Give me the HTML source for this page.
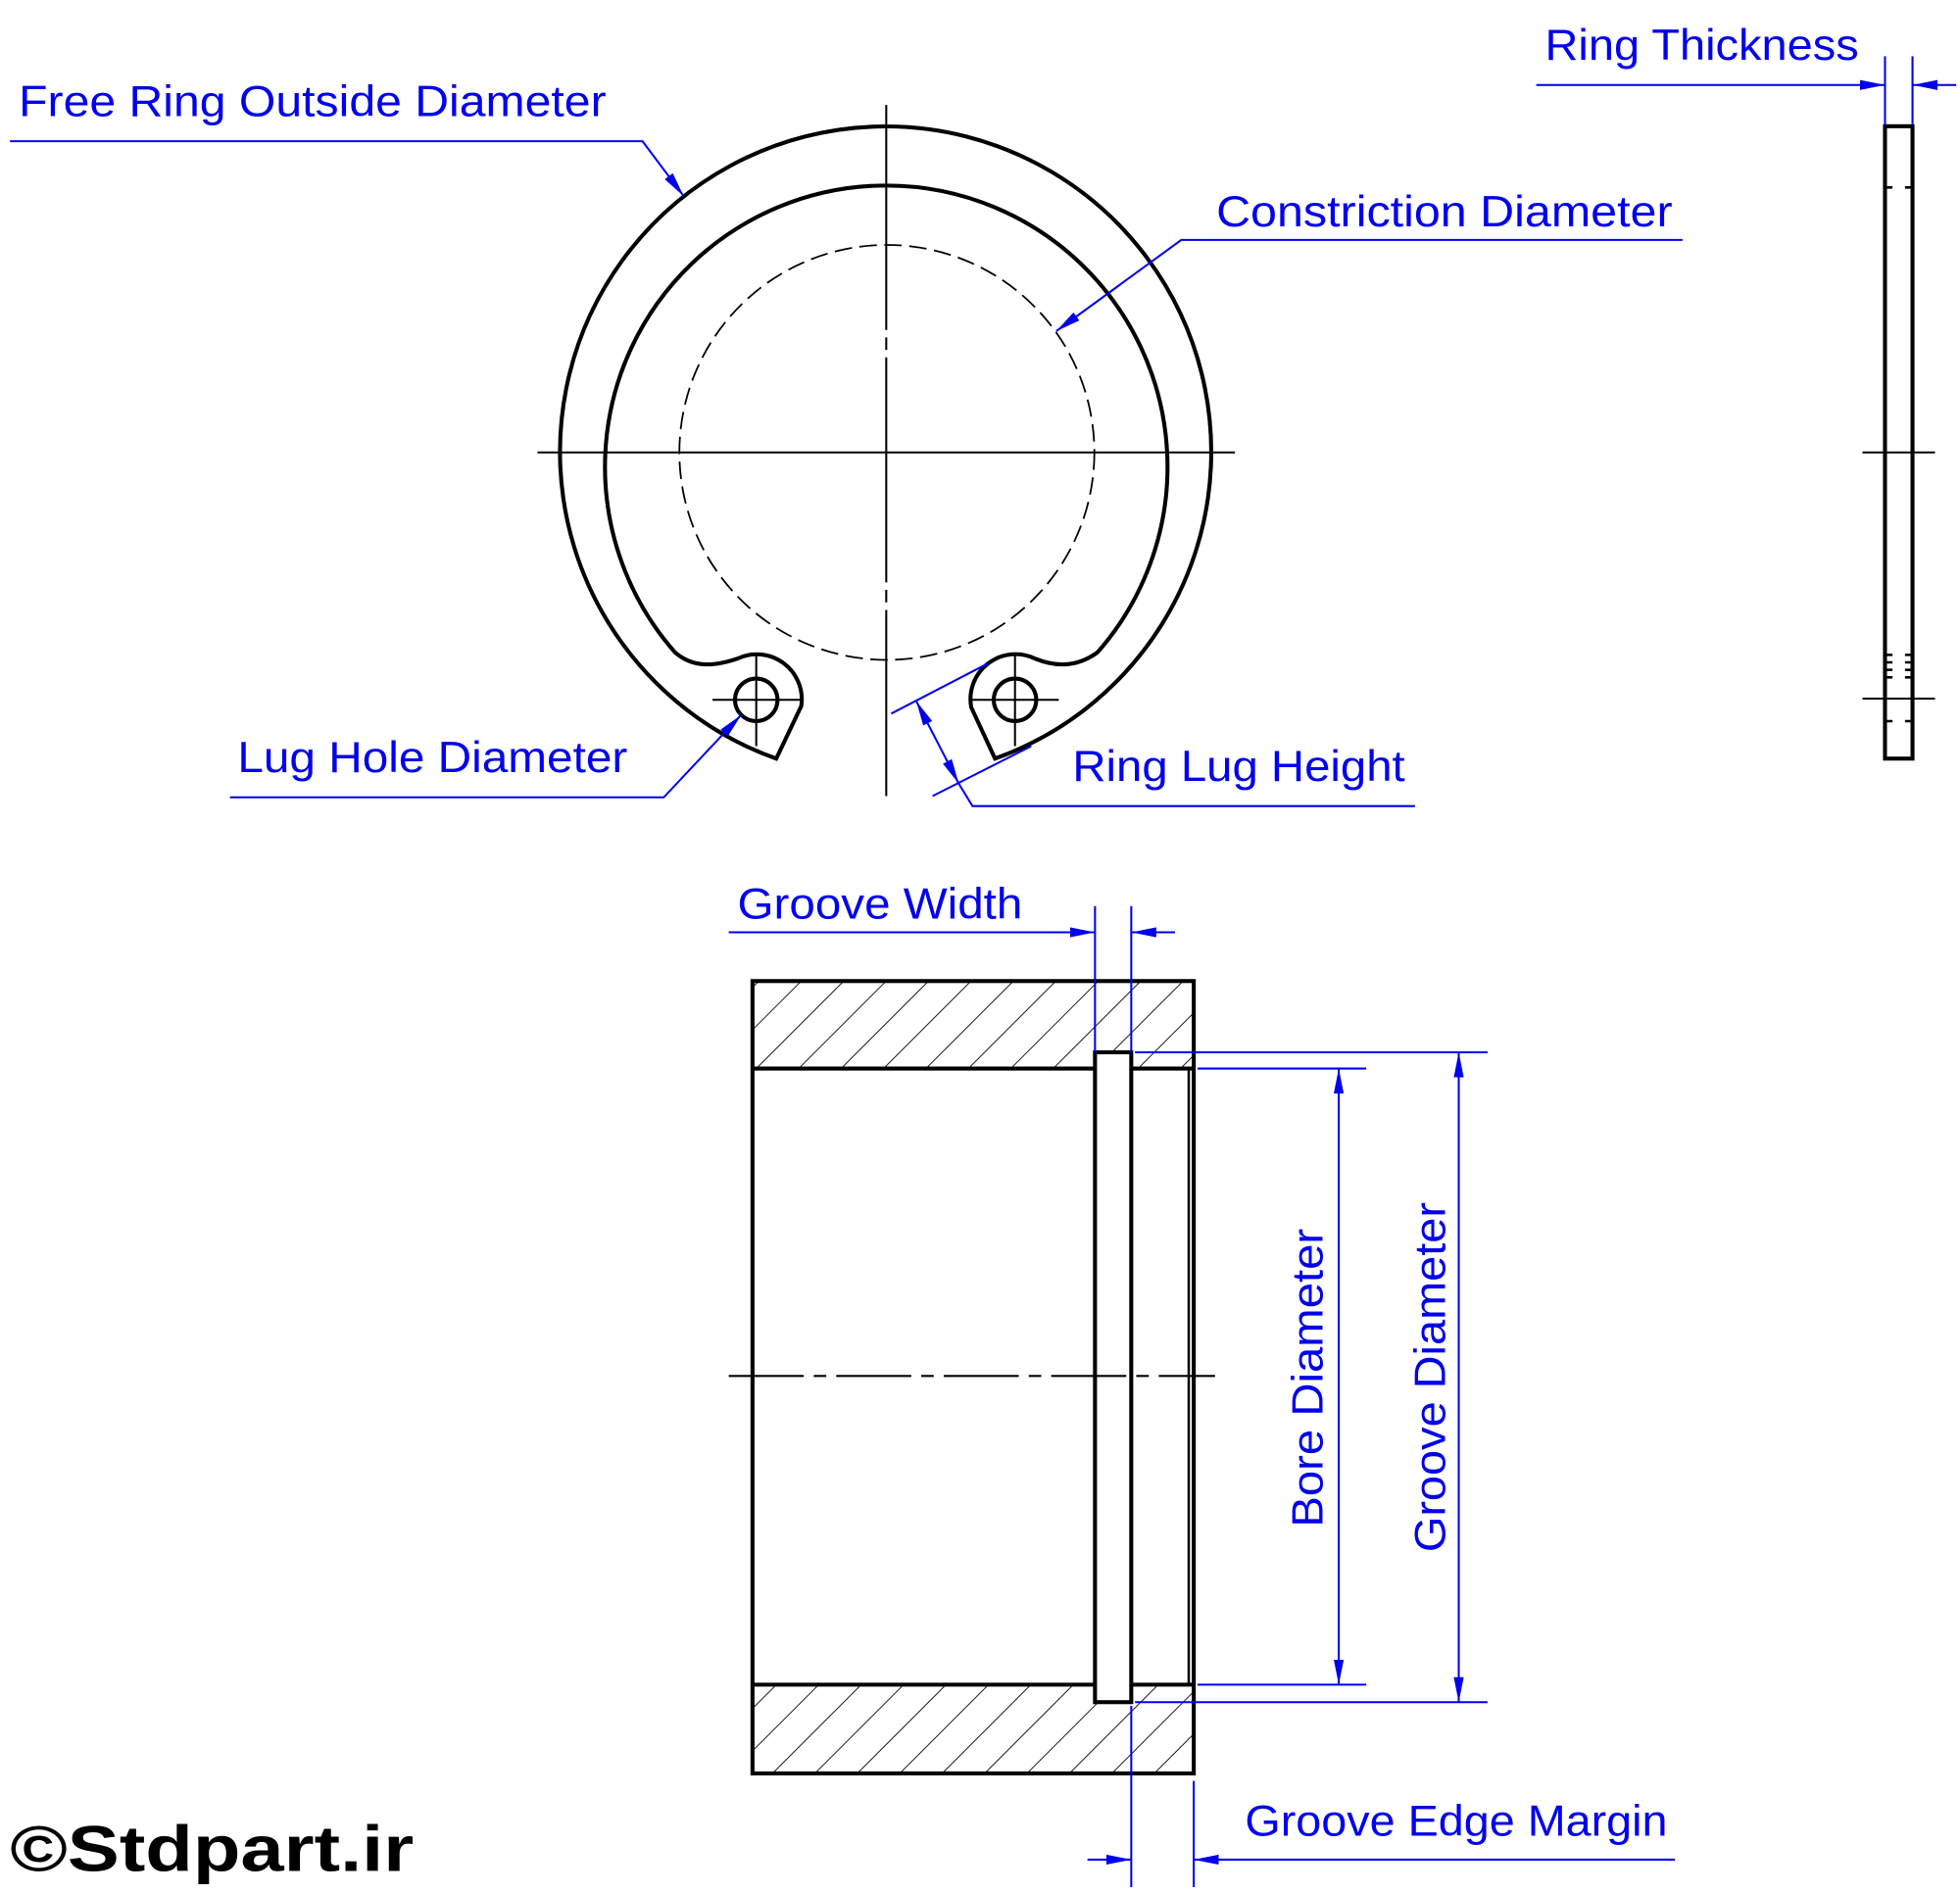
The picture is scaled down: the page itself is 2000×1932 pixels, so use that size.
<!DOCTYPE html>
<html><head><meta charset="utf-8"><style>html,body{margin:0;padding:0;background:#fff}svg{display:block}</style></head><body>
<svg width="2000" height="1932" viewBox="0 0 1568 1514.7" preserveAspectRatio="none" xmlns="http://www.w3.org/2000/svg">
<defs>
<pattern id="h" patternUnits="userSpaceOnUse" width="24" height="24" patternTransform="rotate(45)">
<line x1="0" y1="0" x2="0" y2="24" stroke="#000" stroke-width="1.4"/>
</pattern>
<marker id="a" viewBox="0 0 20 8" refX="20" refY="4" markerWidth="20" markerHeight="8" markerUnits="userSpaceOnUse" orient="auto"><path d="M0 0 L20 4 L0 8Z" fill="#0000ee"/></marker>
<marker id="b" viewBox="0 0 20 8" refX="0" refY="4" markerWidth="20" markerHeight="8" markerUnits="userSpaceOnUse" orient="auto"><path d="M20 0 L0 4 L20 8Z" fill="#0000ee"/></marker>
</defs>
<g fill="none" stroke="#000">
<path stroke-width="3.2" d="M621 607 A260.5 260.5 0 1 1 796 607 L777 566 A36 36 0 0 1 828 527 C843 533 860 535 878 522 A225 225 0 1 0 540 522 C555 535 572 533 590 527 A36 36 0 0 1 641 565 Z"/>
<circle cx="605" cy="560" r="17" stroke-width="3.2"/>
<circle cx="812" cy="560" r="17" stroke-width="3.2"/>
<circle cx="709.5" cy="362" r="166" stroke-width="1.4" stroke-dasharray="14 6"/>
<g stroke-width="1.6">
<line x1="430" y1="362" x2="988" y2="362"/>
<line x1="709" y1="84" x2="709" y2="637" stroke-dasharray="180 6 10 6"/>
<line x1="570" y1="560" x2="640" y2="560"/><line x1="605" y1="523" x2="605" y2="597"/>
<line x1="777" y1="560" x2="847" y2="560"/><line x1="812" y1="523" x2="812" y2="597"/>
</g>
<rect x="1508" y="101" width="22" height="506" stroke-width="3.2"/>
<g stroke-width="1.6">
<line x1="1490" y1="362" x2="1548" y2="362"/><line x1="1490" y1="559" x2="1548" y2="559"/>
<path d="M1508 150h6M1524 150h6M1508 524h6M1524 524h6M1508 530h6M1524 530h6M1508 536h6M1524 536h6M1508 542h6M1524 542h6M1508 577h6M1524 577h6" stroke-width="2"/>
</g>
<rect x="602" y="785" width="353" height="70" fill="url(#h)" stroke="none"/>
<rect x="602" y="1348" width="353" height="71" fill="url(#h)" stroke="none"/>
<rect x="602" y="785" width="353" height="634" stroke-width="3.2"/>
<line x1="602" y1="855" x2="955" y2="855" stroke-width="3.2"/>
<line x1="602" y1="1348" x2="955" y2="1348" stroke-width="3.2"/>
<line x1="951" y1="855" x2="951" y2="1348" stroke-width="2"/>
<rect x="876" y="842" width="29" height="520" fill="#fff" stroke-width="3.2"/>
<line x1="583" y1="1101" x2="972" y2="1101" stroke-width="1.6" stroke-dasharray="60 8 10 8"/>
</g>
<g fill="none" stroke="#0000ee" stroke-width="1.6">
<path d="M8 113H514L547 157" marker-end="url(#a)"/>
<path d="M1346 192H945L845 265" marker-end="url(#a)"/>
<path d="M1229 68H1508" marker-end="url(#a)"/>
<path d="M1565 68H1530" marker-end="url(#a)"/>
<path d="M1508 45V100M1530 45V100"/>
<path d="M184 638H531L593 572" marker-end="url(#a)"/>
<path d="M713 571L790 531M746 637L825 597"/>
<path d="M733 561L767 627" marker-start="url(#b)" marker-end="url(#a)"/>
<path d="M767 627L778 645H1132"/>
<path d="M583 746H876" marker-end="url(#a)"/>
<path d="M940 746H905" marker-end="url(#a)"/>
<path d="M876 725V842M905 725V842"/>
<path d="M958 855H1093M958 1348H1093M908 842H1190M908 1362H1190"/>
<path d="M1071 855V1348" marker-start="url(#b)" marker-end="url(#a)"/>
<path d="M1167 842V1362" marker-start="url(#b)" marker-end="url(#a)"/>
<path d="M905 1365V1510M955 1425V1510"/>
<path d="M870 1488H905" marker-end="url(#a)"/>
<path d="M1340 1488H955" marker-end="url(#a)"/>
</g>
<g fill="#0000ee" font-family="Liberation Sans, sans-serif" font-size="35">
<text x="15" y="93" textLength="470" lengthAdjust="spacingAndGlyphs">Free Ring Outside Diameter</text>
<text x="973" y="181" textLength="365" lengthAdjust="spacingAndGlyphs">Constriction Diameter</text>
<text x="1236" y="48" textLength="251" lengthAdjust="spacingAndGlyphs">Ring Thickness</text>
<text x="190" y="618" textLength="312" lengthAdjust="spacingAndGlyphs">Lug Hole Diameter</text>
<text x="858" y="625" textLength="266" lengthAdjust="spacingAndGlyphs">Ring Lug Height</text>
<text x="590" y="735" textLength="228" lengthAdjust="spacingAndGlyphs">Groove Width</text>
<text x="996" y="1469" textLength="338" lengthAdjust="spacingAndGlyphs">Groove Edge Margin</text>
<text transform="translate(1058 1222) rotate(-90)" textLength="239" lengthAdjust="spacingAndGlyphs">Bore Diameter</text>
<text transform="translate(1156 1242) rotate(-90)" textLength="280" lengthAdjust="spacingAndGlyphs">Groove Diameter</text>
</g>
<text x="8" y="1497" font-family="Liberation Sans, sans-serif" font-weight="bold" font-size="52" textLength="323" lengthAdjust="spacingAndGlyphs" fill="#000">©Stdpart.ir</text>
</svg>
</body></html>
